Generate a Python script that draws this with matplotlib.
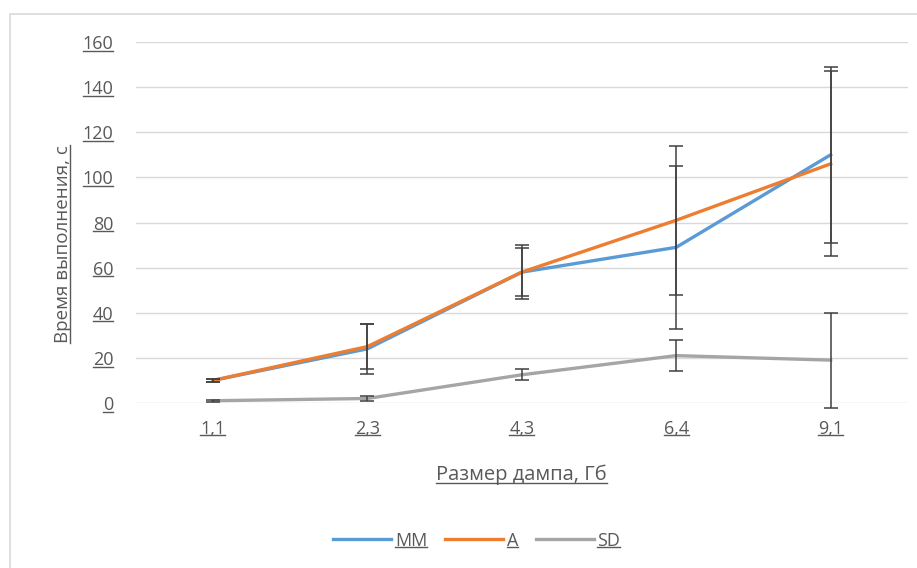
# dump size vs execution time chart
from matplotlib import pyplot as plt
from matplotlib.lines import Line2D
import numpy as np

plt.rcParams['font.family'] = ['Open Sans', 'DejaVu Sans']

sizes = ['1,1', '2,3', '4,3', '6,4', '9,1']
mm = [10, 24, 58, 69, 110]
a = [10, 25, 58, 81, 106]
sd = [1, 2, 12.5, 21, 19]

# error bar half-widths
mm_err = [0.5, 11, 12, 36, 39]
a_err = [0.5, 10, 10.5, 33, 41]
sd_err = [0.5, 1, 2.5, 7, 21]

text_col = '#595959'
fig = plt.figure(figsize=(9.17, 5.68), dpi=100)
ax = fig.add_axes([0.148, 0.2905, 0.842, 0.6355])

x = np.arange(len(sizes))
ax.plot(x, mm, color='#5B9BD5', lw=2.4, label='MM', zorder=3)
ax.plot(x, a, color='#ED7D31', lw=2.4, label='A', zorder=4)
ax.plot(x, sd, color='#A5A5A5', lw=2.4, label='SD', zorder=3)

for vals, err in [(mm, mm_err), (a, a_err), (sd, sd_err)]:
    ax.errorbar(x, vals, yerr=err, fmt='none', ecolor='#404040',
                elinewidth=1.1, capsize=5, capthick=1.1, zorder=5, clip_on=False)

ax.set_xlim(-0.5, len(sizes) - 0.5)
ax.set_ylim(0, 160)
ax.set_yticks(np.arange(0, 161, 20))
ax.set_xticks(x)
ax.set_xticklabels(sizes)
ax.grid(axis='y', color='#D9D9D9', lw=1)
ax.set_axisbelow(True)
for s in ax.spines.values():
    s.set_visible(False)
ax.tick_params(length=0, colors=text_col, labelsize=13)
ax.tick_params(axis='y', pad=16)
ax.tick_params(axis='x', pad=12)

ax.set_xlabel('Размер дампа, Гб', color=text_col, fontsize=14.5)
ax.xaxis.set_label_coords(0.5, -0.17)
ax.set_ylabel('Время выполнения, с', color=text_col, fontsize=13.5)
ax.yaxis.set_label_coords(-0.083, 0.44)

leg = fig.legend(loc='center', bbox_to_anchor=(0.52, 0.048), ncol=3, frameon=False,
                 fontsize=13, handlelength=3.2, columnspacing=1.0, handletextpad=0.2)
for t in leg.get_texts():
    t.set_color(text_col)

# light chart frame
fig.add_artist(plt.Rectangle((0.011, -0.01), 1.0, 0.985, transform=fig.transFigure,
                             fill=False, edgecolor='#D9D9D9', lw=1.2))

# underline all texts like the source image
fig.canvas.draw()
r = fig.canvas.get_renderer()
texts = ax.get_xticklabels() + ax.get_yticklabels() + [ax.xaxis.label] + leg.get_texts()
inv = fig.transFigure.inverted()
for t in texts:
    bb = t.get_window_extent(r)
    (x0, y0), (x1, y1) = inv.transform([(bb.x0, bb.y0), (bb.x1, bb.y1)])
    fig.add_artist(Line2D([x0, x1], [y0 + 0.004, y0 + 0.004], transform=fig.transFigure,
                          color=text_col, lw=1))
bb = ax.yaxis.label.get_window_extent(r)
(x0, y0), (x1, y1) = inv.transform([(bb.x0, bb.y0), (bb.x1, bb.y1)])
fig.add_artist(Line2D([x1 - 0.002, x1 - 0.002], [y0, y1], transform=fig.transFigure,
                      color=text_col, lw=1))

fig.savefig('out.png', dpi=100)
